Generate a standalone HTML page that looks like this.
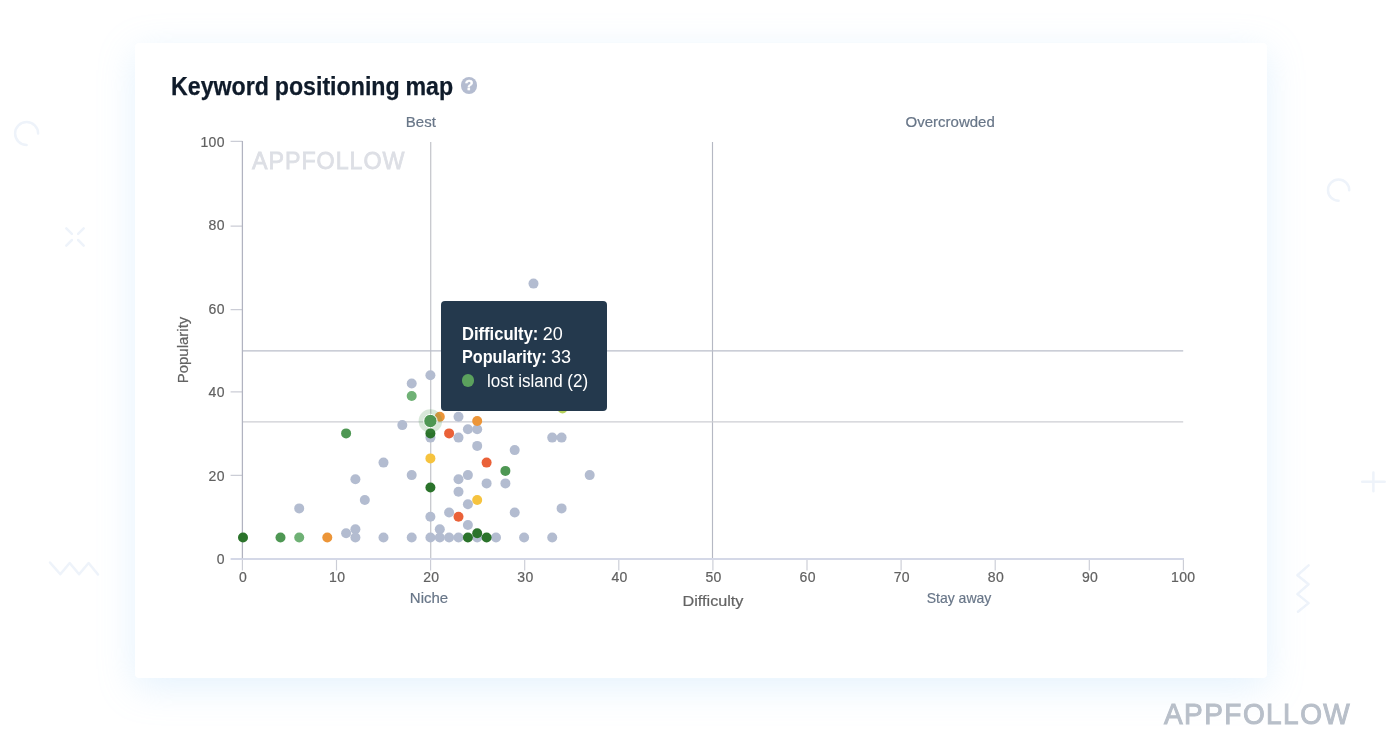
<!DOCTYPE html>
<html lang="en">
<head>
<meta charset="utf-8">
<title>Keyword positioning map</title>
<style>
*{box-sizing:border-box;margin:0;padding:0}
html,body{width:1400px;height:749px;overflow:hidden;background:#fff}
body{position:relative;font-family:"Liberation Sans",sans-serif;color:#666}
.card{position:absolute;left:134.5px;top:42.5px;width:1132.5px;height:635.3px;background:#fff;border-radius:4px;box-shadow:0 9px 37px rgba(150,203,248,.26)}
.deco{position:absolute;left:0;top:0}
h1{position:absolute;left:171.2px;top:69.1px;font-size:25.6px;line-height:34px;font-weight:700;color:#0f1b2a;white-space:nowrap;word-spacing:-.7px;transform-origin:0 50%;transform:scaleX(.906);-webkit-text-stroke:.25px #0f1b2a}
.help{position:absolute;left:460.9px;top:77.3px;width:16.5px;height:16.5px;border-radius:50%;background:#b4bcd0;color:#fff;font-size:14.5px;font-weight:700;line-height:17.2px;text-align:center;-webkit-text-stroke:.35px #fff}
.xt,.yt{position:absolute;font-size:14px;line-height:20px;color:#616161;white-space:nowrap;letter-spacing:.3px;-webkit-text-stroke:.2px #616161}
.xt{top:567px;width:60px;text-align:center}
.yt{left:164.8px;width:60px;text-align:right}
.cat{position:absolute;font-size:15px;line-height:20px;color:#687688;-webkit-text-stroke:.2px #687688;white-space:nowrap;width:200px;text-align:center}
.ax{position:absolute;font-size:15px;line-height:20px;color:#636363;-webkit-text-stroke:.2px #636363;white-space:nowrap;width:200px;text-align:center}
.wm1{position:absolute;left:251.7px;top:144.7px;font-size:24.2px;line-height:32px;font-weight:400;color:#dddfe5;-webkit-text-stroke:.8px #dddfe5;letter-spacing:1px;white-space:nowrap;transform-origin:0 50%;transform:scaleX(.962)}
.wm2{position:absolute;left:1164px;top:695.6px;font-size:29.3px;line-height:36px;font-weight:400;color:#b8bfc9;-webkit-text-stroke:1px #b8bfc9;letter-spacing:1.5px;white-space:nowrap;transform-origin:0 50%;transform:scaleX(.956)}
.tip{position:absolute;left:441.4px;top:301px;width:165.8px;height:110.3px;background:#24394d;border-radius:4px;color:#fff;font-size:18px;line-height:24px;white-space:nowrap}
.tip b{font-weight:700}
.tip span,.tip b{position:absolute;display:block;transform-origin:0 50%}
.tip i{position:absolute;left:20.2px;top:73.3px;width:12.6px;height:12.6px;border-radius:50%;background:#5ba15d}
</style>
</head>
<body>
<svg class="deco" width="1400" height="749" viewBox="0 0 1400 749" fill="none" stroke="#eef3fa" stroke-width="2.5" stroke-linecap="round" stroke-linejoin="round">
<path d="M38.1 133.4 A11.5 11.5 0 1 0 26.6 144.9"/>
<path d="M66.3 228.3 l5.6 5.6 M83.7 228.3 l-5.6 5.6 M66.3 245.6 l5.6 -5.6 M83.7 245.6 l-5.6 -5.6"/>
<path d="M50 562.5 L60.3 574.3 L69.7 563 L79.1 574.3 L88.6 563 L98 574.5"/>
<path d="M1349.2 190.2 A10.6 10.6 0 1 0 1338.6 200.8"/>
<path d="M1362.2 481.7 H1384.7 M1373.4 472.6 V491.3"/>
<path d="M1308.6 565.4 L1297.4 575.3 L1308.6 584.3 L1297.4 594.1 L1308.6 603.1 L1298 611.7"/>
</svg>
<div class="card"></div>
<main>
<h1 id="title">Keyword positioning map</h1>
<div class="help" id="help">?</div>
<svg id="chart" width="1400" height="749" viewBox="0 0 1400 749" style="position:absolute;left:0;top:0">
<g fill="none">
<path d="M430.7 142 V558" stroke="#c7c8cd" stroke-width="1.3"/>
<path d="M712.5 142 V558" stroke="#b5b8c3" stroke-width="1.15"/>
<path d="M242.4 350.8 H1183.2" stroke="#babeca" stroke-width="1.3"/>
<path d="M242.4 421.9 H1183.2" stroke="#cdced3" stroke-width="1.35"/>
</g>
<path d="M242.4 559 V570.5 M336.5 559 V570.5 M430.6 559 V570.5 M524.7 559 V570.5 M618.8 559 V570.5 M712.9 559 V570.5 M807.0 559 V570.5 M901.1 559 V570.5 M995.2 559 V570.5 M1089.3 559 V570.5 M1183.4 559 V570.5 M230.6 475.4 H242.4 M230.6 391.9 H242.4 M230.6 309.6 H242.4 M230.6 226.1 H242.4 M230.6 141.4 H242.4" stroke="#cbcdd6" stroke-width="1.15" fill="none"/>
<path d="M230.6 559 H1184" stroke="#d4d8e7" stroke-width="1.9" fill="none"/>
<path d="M242.4 141 V558.2" stroke="#b1b3c0" stroke-width="1.25" fill="none"/>
<circle cx="533.5" cy="283.6" r="5" fill="#b3bcd0"/>
<circle cx="430.4" cy="375.2" r="5" fill="#b3bcd0"/>
<circle cx="411.7" cy="383.5" r="5" fill="#b3bcd0"/>
<circle cx="458.5" cy="416.8" r="5" fill="#b3bcd0"/>
<circle cx="402.3" cy="425.1" r="5" fill="#b3bcd0"/>
<circle cx="467.9" cy="429.3" r="5" fill="#b3bcd0"/>
<circle cx="477.2" cy="429.3" r="5" fill="#b3bcd0"/>
<circle cx="430.4" cy="437.6" r="5" fill="#b3bcd0"/>
<circle cx="458.5" cy="437.6" r="5" fill="#b3bcd0"/>
<circle cx="552.2" cy="437.6" r="5" fill="#b3bcd0"/>
<circle cx="561.6" cy="437.6" r="5" fill="#b3bcd0"/>
<circle cx="477.2" cy="445.9" r="5" fill="#b3bcd0"/>
<circle cx="514.7" cy="450.1" r="5" fill="#b3bcd0"/>
<circle cx="383.5" cy="462.6" r="5" fill="#b3bcd0"/>
<circle cx="411.7" cy="475.1" r="5" fill="#b3bcd0"/>
<circle cx="467.9" cy="475.1" r="5" fill="#b3bcd0"/>
<circle cx="589.7" cy="475.1" r="5" fill="#b3bcd0"/>
<circle cx="355.4" cy="479.2" r="5" fill="#b3bcd0"/>
<circle cx="458.5" cy="479.2" r="5" fill="#b3bcd0"/>
<circle cx="486.6" cy="483.4" r="5" fill="#b3bcd0"/>
<circle cx="505.4" cy="483.4" r="5" fill="#b3bcd0"/>
<circle cx="458.5" cy="491.7" r="5" fill="#b3bcd0"/>
<circle cx="364.8" cy="500.0" r="5" fill="#b3bcd0"/>
<circle cx="467.9" cy="504.2" r="5" fill="#b3bcd0"/>
<circle cx="299.2" cy="508.4" r="5" fill="#b3bcd0"/>
<circle cx="561.6" cy="508.4" r="5" fill="#b3bcd0"/>
<circle cx="449.1" cy="512.5" r="5" fill="#b3bcd0"/>
<circle cx="514.7" cy="512.5" r="5" fill="#b3bcd0"/>
<circle cx="430.4" cy="516.7" r="5" fill="#b3bcd0"/>
<circle cx="467.9" cy="525.0" r="5" fill="#b3bcd0"/>
<circle cx="355.4" cy="529.2" r="5" fill="#b3bcd0"/>
<circle cx="439.8" cy="529.2" r="5" fill="#b3bcd0"/>
<circle cx="346.1" cy="533.3" r="5" fill="#b3bcd0"/>
<circle cx="355.4" cy="537.5" r="5" fill="#b3bcd0"/>
<circle cx="383.5" cy="537.5" r="5" fill="#b3bcd0"/>
<circle cx="411.7" cy="537.5" r="5" fill="#b3bcd0"/>
<circle cx="430.4" cy="537.5" r="5" fill="#b3bcd0"/>
<circle cx="439.8" cy="537.5" r="5" fill="#b3bcd0"/>
<circle cx="449.1" cy="537.5" r="5" fill="#b3bcd0"/>
<circle cx="458.5" cy="537.5" r="5" fill="#b3bcd0"/>
<circle cx="477.2" cy="537.5" r="5" fill="#b3bcd0"/>
<circle cx="496.0" cy="537.5" r="5" fill="#b3bcd0"/>
<circle cx="524.1" cy="537.5" r="5" fill="#b3bcd0"/>
<circle cx="552.2" cy="537.5" r="5" fill="#b3bcd0"/>
<circle cx="562.5" cy="408.5" r="5" fill="#b5d15a"/>
<circle cx="411.7" cy="396.0" r="5" fill="#6fb175"/>
<circle cx="299.2" cy="537.5" r="5" fill="#6fb175"/>
<circle cx="439.8" cy="416.8" r="5" fill="#ec9538"/>
<circle cx="477.2" cy="421.0" r="5" fill="#ec9538"/>
<circle cx="327.3" cy="537.5" r="5" fill="#ec9538"/>
<circle cx="449.1" cy="433.4" r="5" fill="#ea6138"/>
<circle cx="486.6" cy="462.6" r="5" fill="#ea6138"/>
<circle cx="458.5" cy="516.7" r="5" fill="#ea6138"/>
<circle cx="430.4" cy="458.4" r="5" fill="#f6c33e"/>
<circle cx="477.2" cy="500.0" r="5" fill="#f6c33e"/>
<circle cx="346.1" cy="433.4" r="5" fill="#4e9753"/>
<circle cx="505.4" cy="470.9" r="5" fill="#4e9753"/>
<circle cx="280.5" cy="537.5" r="5" fill="#4e9753"/>
<circle cx="430.4" cy="433.4" r="5" fill="#2b732b"/>
<circle cx="430.4" cy="487.5" r="5" fill="#2b732b"/>
<circle cx="243.0" cy="537.5" r="5" fill="#2b732b"/>
<circle cx="467.9" cy="537.5" r="5" fill="#2b732b"/>
<circle cx="477.2" cy="533.3" r="5" fill="#2b732b"/>
<circle cx="486.6" cy="537.5" r="5" fill="#2b732b"/>
<circle cx="430.4" cy="421.0" r="11.8" fill="#4e9753" fill-opacity="0.22"/>
<circle cx="430.4" cy="421.0" r="6.7" fill="#4e9753" stroke="#fff" stroke-width="1"/>
</svg>
<div class="wm1" id="wm1">APPFOLLOW</div>
<div class="xt" style="left:213.1px">0</div>
<div class="xt" style="left:307.2px">10</div>
<div class="xt" style="left:401.3px">20</div>
<div class="xt" style="left:495.4px">30</div>
<div class="xt" style="left:589.5px">40</div>
<div class="xt" style="left:683.6px">50</div>
<div class="xt" style="left:777.7px">60</div>
<div class="xt" style="left:871.8px">70</div>
<div class="xt" style="left:965.9px">80</div>
<div class="xt" style="left:1060.0px">90</div>
<div class="xt" style="left:1153.2px">100</div>
<div class="yt" style="top:549.0px">0</div>
<div class="yt" style="top:465.5px">20</div>
<div class="yt" style="top:382.1px">40</div>
<div class="yt" style="top:298.6px">60</div>
<div class="yt" style="top:215.2px">80</div>
<div class="yt" style="top:131.7px">100</div>
<div class="cat" id="best" style="left:320.8px;top:111.7px">Best</div>
<div class="cat" id="over" style="left:850.2px;top:111.7px">Overcrowded</div>
<div class="cat" id="niche" style="left:329px;top:588px">Niche</div>
<div class="cat" id="stay" style="left:858.7px;top:588px;transform:scaleX(.935)">Stay away</div>
<div class="ax" id="axx" style="left:613.2px;top:591.3px;transform:scaleX(1.08)">Difficulty</div>
<div class="ax" id="axy" style="left:83px;top:340px;transform:rotate(-90deg)">Popularity</div>
<div class="tip" id="tip"><b id="t1" style="left:20.2px;top:21.2px;transform:scaleX(.92)">Difficulty:</b><span id="t1v" style="left:101.3px;top:21.2px;transform:scaleX(1)">20</span><b id="t2" style="left:20.2px;top:44.1px;transform:scaleX(.9)">Popularity:</b><span id="t2v" style="left:109.5px;top:44.1px;transform:scaleX(1)">33</span><i></i><span id="t3" style="left:45.6px;top:67.6px;transform:scaleX(.945)">lost island (2)</span></div>
</main>
<footer class="wm2" id="wm2">APPFOLLOW</footer>
</body>
</html>
